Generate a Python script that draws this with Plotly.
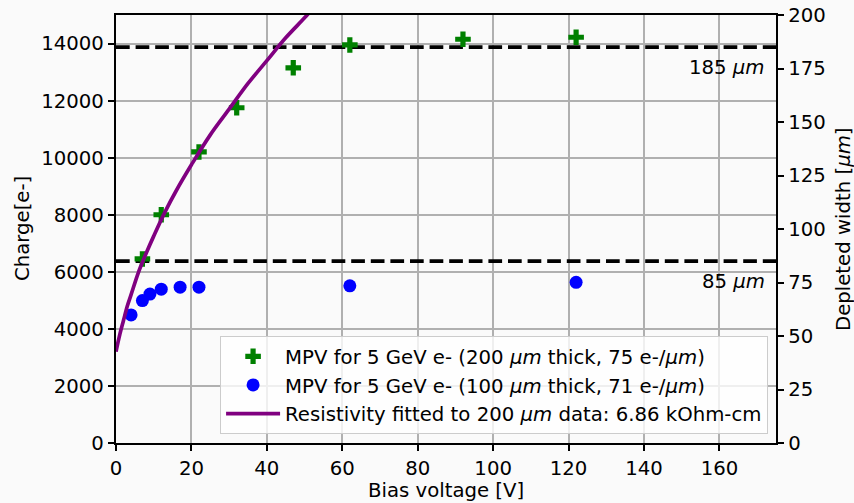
import plotly.graph_objects as go

# Measured MPV charge, 200 um thick sensor
bias_200 = [7, 12, 22, 32, 47, 62, 92, 122]
charge_200 = [6450, 8000, 10200, 11750, 13150, 13950, 14150, 14220]

# Measured MPV charge, 100 um thick sensor
bias_100 = [4, 7, 9, 12, 17, 22, 62, 122]
charge_100 = [4490, 4990, 5220, 5390, 5460, 5460, 5510, 5630]

# Depletion curve for the fitted resistivity (charge in e-)
fit_bias = [0, 1, 2, 3, 4, 6, 8, 10, 13, 16, 20, 25, 30, 35, 40, 45, 50, 52]
fit_charge = [3200, 3800, 4300, 4800, 5200, 6000, 6650, 7250, 8100, 8850,
              9750, 10800, 11700, 12600, 13400, 14200, 14900, 15200]

# Reference depletion widths (um)
ref_widths = [185, 85]

E_PER_UM = 75          # charge scale of the right axis
Q_MAX = 15000
X_MAX = 175

FONT = "DejaVu Sans"
FS = 19.7
BG = "#fafafa"

fig = go.Figure()

# horizontal reference lines at the given depleted widths
for w in ref_widths:
    fig.add_trace(go.Scatter(
        x=[0, X_MAX], y=[w * E_PER_UM] * 2, mode="lines",
        line=dict(color="black", width=3.7, dash="13.7px,5.9px"),
        showlegend=False, hoverinfo="skip"))

fig.add_trace(go.Scatter(
    x=bias_200, y=charge_200, mode="markers",
    marker=dict(symbol="cross", size=13, color="green", line=dict(width=0)),
    name="MPV for 5 GeV e- (200 <i>μm</i> thick, 75 e-/<i>μm</i>)"))

fig.add_trace(go.Scatter(
    x=bias_100, y=charge_100, mode="markers",
    marker=dict(symbol="circle", size=13, color="blue", line=dict(width=0)),
    name="MPV for 5 GeV e- (100 <i>μm</i> thick, 71 e-/<i>μm</i>)"))

fig.add_trace(go.Scatter(
    x=fit_bias, y=fit_charge, mode="lines", line_shape="spline",
    line=dict(color="purple", width=3.7),
    name="Resistivity fitted to 200 <i>μm</i> data: 6.86 kOhm-cm"))

# invisible trace to carry the right (depleted width) axis
fig.add_trace(go.Scatter(
    x=[0], y=[0], yaxis="y2", mode="markers",
    marker=dict(opacity=0), showlegend=False, hoverinfo="skip"))

for w in ref_widths:
    fig.add_annotation(
        x=172.5, y=(w - 9.5) * E_PER_UM, xref="x", yref="y",
        text=f"{w} <i>μm</i>", showarrow=False,
        xanchor="right", yanchor="middle",
        font=dict(family=FONT, size=FS, color="black"))

axis_common = dict(
    showline=True, linecolor="black", linewidth=1.5,
    ticks="outside", ticklen=6.5, tickwidth=1.5, tickcolor="black",
    tickfont=dict(family=FONT, size=FS, color="black"),
    zeroline=False, automargin=False,
)

fig.update_layout(
    width=854, height=503,
    margin=dict(l=116, r=78, t=15, b=60, autoexpand=False),
    paper_bgcolor=BG, plot_bgcolor=BG,
    font=dict(family=FONT, size=FS, color="black"),
    xaxis=dict(range=[0, X_MAX], dtick=20, tick0=0, mirror=True,
               showgrid=True, gridcolor="#b0b0b0", gridwidth=1.5,
               **axis_common),
    yaxis=dict(range=[0, Q_MAX], dtick=2000, tick0=0, tickformat="d",
               showgrid=True, gridcolor="#b0b0b0", gridwidth=1.5,
               **axis_common),
    yaxis2=dict(range=[0, Q_MAX / E_PER_UM], dtick=25, tick0=0,
                tickformat="d", overlaying="y", side="right",
                showgrid=False, **axis_common),
    legend=dict(x=0.988, y=0.021, xanchor="right", yanchor="bottom",
                bgcolor="rgba(255,255,255,0.8)", bordercolor="#cccccc",
                borderwidth=1, itemwidth=54,
                font=dict(family=FONT, size=FS, color="black")),
    showlegend=True,
)

# axis titles
title_font = dict(family=FONT, size=FS, color="black")
fig.add_annotation(x=0.5, y=0, xref="paper", yref="paper", yshift=-47,
                   text="Bias voltage [V]", showarrow=False,
                   xanchor="center", yanchor="middle", font=title_font)
fig.add_annotation(x=0, y=0.5, xref="paper", yref="paper", xshift=-94,
                   text="Charge[e-]", showarrow=False, textangle=-90,
                   xanchor="center", yanchor="middle", font=title_font)
fig.add_annotation(x=1, y=0.5, xref="paper", yref="paper", xshift=67,
                   text="Depleted width [<i>μm</i>]", showarrow=False,
                   textangle=-90, xanchor="center", yanchor="middle",
                   font=title_font)

fig.write_html("out.html")
